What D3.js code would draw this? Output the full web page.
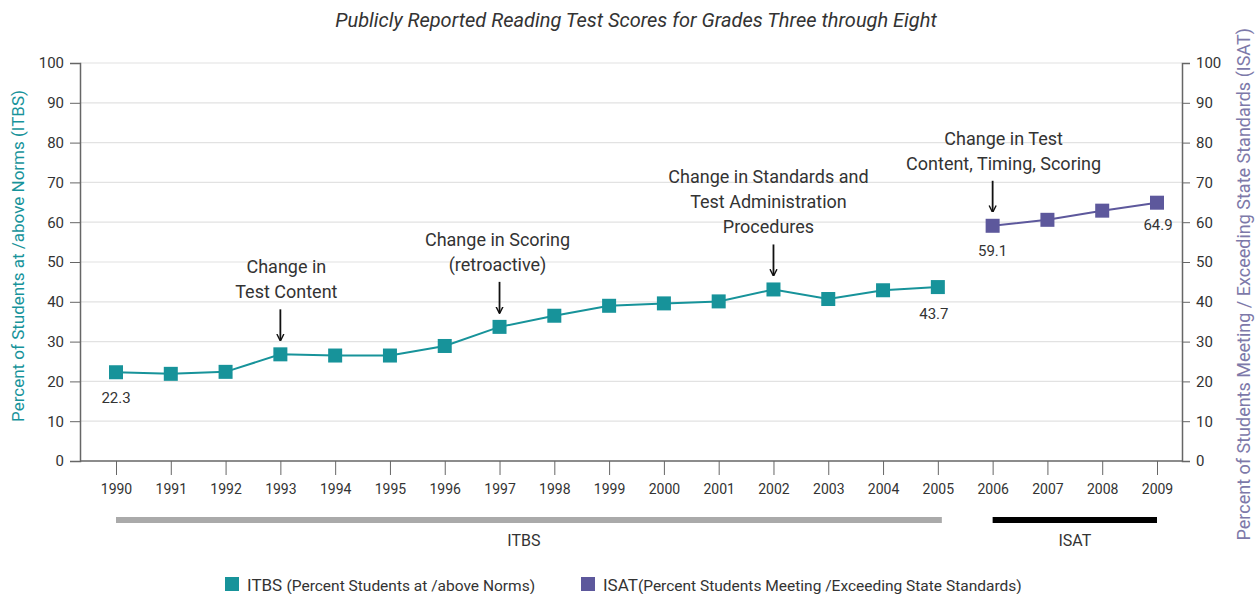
<!DOCTYPE html>
<html>
<head>
<meta charset="utf-8">
<script src="https://cdn.jsdelivr.net/npm/d3@7"></script>
<style>
  body { margin: 0; background: #fff; }
  svg text { font-family: "Roboto", "Liberation Sans", sans-serif; fill: #333; }
</style>
</head>
<body>
<div class="chart"></div>
<script>
// data
var years = [1990, 1991, 1992, 1993, 1994, 1995, 1996, 1997, 1998, 1999,
             2000, 2001, 2002, 2003, 2004, 2005, 2006, 2007, 2008, 2009];
var itbsYears = [1990, 1991, 1992, 1993, 1994, 1995, 1996, 1997, 1998, 1999,
                 2000, 2001, 2002, 2003, 2004, 2005];
var itbsValues = [22.3, 21.9, 22.4, 26.8, 26.5, 26.5, 28.9, 33.7, 36.5, 39.0,
                  39.6, 40.1, 43.1, 40.7, 42.9, 43.7];
var isatYears = [2006, 2007, 2008, 2009];
var isatValues = [59.1, 60.6, 62.9, 64.9];
var yTicks = [0, 10, 20, 30, 40, 50, 60, 70, 80, 90, 100];

// annotations: year, label lines
var notes = [
  {year: 1993, lines: ["Change in", "Test Content"], dx: 6},
  {year: 1997, lines: ["Change in Scoring", "(retroactive)"], dx: -2},
  {year: 2002, lines: ["Change in Standards and", "Test Administration", "Procedures"], dx: -5},
  {year: 2006, lines: ["Change in Test", "Content, Timing, Scoring"], dx: 11}
];
var valueLabels = [
  {year: 1990, value: 22.3, dx: 0, dy: 31},
  {year: 2005, value: 43.7, dx: -4, dy: 32},
  {year: 2006, value: 59.1, dx: 0, dy: 30},
  {year: 2009, value: 64.9, dx: 1, dy: 27}
];

var teal = "#17939a", purple = "#5d589c";

var width = 1257, height = 594;
var plot = {left: 80, right: 1182, top: 63, bottom: 461};

var svg = d3.select(".chart").append("svg")
    .attr("width", width)
    .attr("height", height);

var x = d3.scaleLinear().domain([1990, 2009]).range([116, 1157]);
var y = d3.scaleLinear().domain([0, 100]).range([plot.bottom, plot.top]);

// title
svg.append("text")
    .attr("x", 636).attr("y", 27)
    .attr("text-anchor", "middle")
    .style("font-style", "italic")
    .style("font-size", "20px")
    .text("Publicly Reported Reading Test Scores for Grades Three through Eight");

// gridlines
svg.append("g").selectAll("line")
    .data(yTicks.slice(1))
    .enter().append("line")
    .attr("x1", plot.left).attr("x2", plot.right)
    .attr("y1", function(d) { return y(d); })
    .attr("y2", function(d) { return y(d); })
    .attr("stroke", "#e2e2e2")
    .attr("stroke-width", 1.2);

// left axis
var yAxisL = d3.axisLeft(y).tickValues(yTicks).tickSize(10).tickPadding(6);
var gl = svg.append("g")
    .attr("transform", "translate(" + plot.left + ",0)")
    .call(yAxisL);
// right axis
var yAxisR = d3.axisRight(y).tickValues(yTicks).tickSize(8).tickPadding(6);
var gr = svg.append("g")
    .attr("transform", "translate(" + plot.right + ",0)")
    .call(yAxisR);

[gl, gr].forEach(function(g) {
  g.select(".domain").attr("stroke", "#666").attr("stroke-width", 1.5);
  g.selectAll(".tick line").attr("stroke", "#666");
  g.selectAll(".tick text").style("font-size", "15px").attr("fill", "#333")
    .style("font-family", "Roboto, sans-serif");
});

// bottom axis
var xAxis = d3.axisBottom(x)
    .tickValues(years)
    .tickFormat(d3.format("d"))
    .tickSize(14)
    .tickPadding(9);
var gx = svg.append("g")
    .attr("transform", "translate(0," + plot.bottom + ")")
    .call(xAxis);
gx.select(".domain").remove();
gx.selectAll(".tick line").attr("stroke", "#666");
gx.selectAll(".tick text").style("font-size", "14px").attr("fill", "#333")
  .style("font-family", "Roboto, sans-serif");
svg.append("line")
    .attr("x1", plot.left).attr("x2", plot.right)
    .attr("y1", plot.bottom).attr("y2", plot.bottom)
    .attr("stroke", "#666").attr("stroke-width", 1.5);

// axis titles
svg.append("text")
    .attr("transform", "translate(24," + ((plot.top + plot.bottom) / 2 - 6) + ") rotate(-90)")
    .attr("text-anchor", "middle")
    .style("font-size", "17px")
    .style("fill", teal)
    .text("Percent of Students at /above Norms (ITBS)");

svg.append("text")
    .attr("transform", "translate(1250,28) rotate(-90)")
    .attr("text-anchor", "end")
    .style("font-size", "18px")
    .style("fill", "#7d79a9")
    .text("Percent of Students Meeting / Exceeding State Standards (ISAT)");

// lines
var line = d3.line()
    .x(function(d) { return x(d[0]); })
    .y(function(d) { return y(d[1]); });

function drawSeries(yrs, vals, color) {
  var pts = d3.zip(yrs, vals);
  svg.append("path")
      .datum(pts)
      .attr("fill", "none")
      .attr("stroke", color)
      .attr("stroke-width", 2)
      .attr("d", line);
  svg.append("g").selectAll("rect")
      .data(pts)
      .enter().append("rect")
      .attr("x", function(d) { return x(d[0]) - 7; })
      .attr("y", function(d) { return y(d[1]) - 7; })
      .attr("width", 14).attr("height", 14)
      .attr("fill", color);
}
drawSeries(itbsYears, itbsValues, teal);
drawSeries(isatYears, isatValues, purple);

// value labels
svg.append("g").selectAll("text")
    .data(valueLabels)
    .enter().append("text")
    .attr("x", function(d) { return x(d.year) + d.dx; })
    .attr("y", function(d) { return y(d.value) + d.dy; })
    .attr("text-anchor", "middle")
    .style("font-size", "15px")
    .text(function(d) { return d.value.toFixed(1); });

// arrow marker
svg.append("defs").append("marker")
    .attr("id", "arrow")
    .attr("viewBox", "0 0 10 10")
    .attr("refX", 9).attr("refY", 5)
    .attr("markerWidth", 7).attr("markerHeight", 9)
    .attr("markerUnits", "userSpaceOnUse")
    .attr("orient", "auto")
    .append("path")
    .attr("d", "M0,0 L10,5 L0,10")
    .attr("fill", "none")
    .attr("stroke", "#111")
    .attr("stroke-width", 2);

// annotations
notes.forEach(function(n) {
  var v = n.year <= 2005 ? itbsValues[itbsYears.indexOf(n.year)] : isatValues[isatYears.indexOf(n.year)];
  var px = x(n.year), py = y(v);
  svg.append("line")
      .attr("x1", px).attr("x2", px)
      .attr("y1", py - 45).attr("y2", py - 14)
      .attr("stroke", "#111")
      .attr("stroke-width", 1.8)
      .attr("marker-end", "url(#arrow)");
  var nl = n.lines.length;
  n.lines.forEach(function(t, i) {
    svg.append("text")
        .attr("x", px + n.dx)
        .attr("y", py - 56 - (nl - 1 - i) * 25)
        .attr("text-anchor", "middle")
        .style("font-size", "18px")
        .attr("fill", "#222")
        .text(t);
  });
});

// test period bars
svg.append("line")
    .attr("x1", x(1990)).attr("x2", x(2005) + 4)
    .attr("y1", 520).attr("y2", 520)
    .attr("stroke", "#aaa").attr("stroke-width", 6);
svg.append("line")
    .attr("x1", x(2006)).attr("x2", x(2009))
    .attr("y1", 520).attr("y2", 520)
    .attr("stroke", "#000").attr("stroke-width", 6);
svg.append("text")
    .attr("x", (x(1990) + x(2005)) / 2 - 3).attr("y", 546)
    .attr("text-anchor", "middle")
    .style("font-size", "16px")
    .text("ITBS");
svg.append("text")
    .attr("x", (x(2006) + x(2009)) / 2).attr("y", 546)
    .attr("text-anchor", "middle")
    .style("font-size", "16px")
    .text("ISAT");

// legend
var legend = [
  {name: "ITBS ", note: "(Percent Students at /above Norms)", color: teal, x: 225},
  {name: "ISAT", note: "(Percent Students Meeting /Exceeding State Standards)", color: purple, x: 581}
];
legend.forEach(function(l) {
  svg.append("rect")
      .attr("x", l.x).attr("y", 577)
      .attr("width", 14).attr("height", 14)
      .attr("fill", l.color);
  var t = svg.append("text")
      .attr("x", l.x + 22).attr("y", 591);
  t.append("tspan").style("font-size", "17px").text(l.name);
  t.append("tspan").style("font-size", "15.5px").text(l.note);
});
</script>
</body>
</html>
